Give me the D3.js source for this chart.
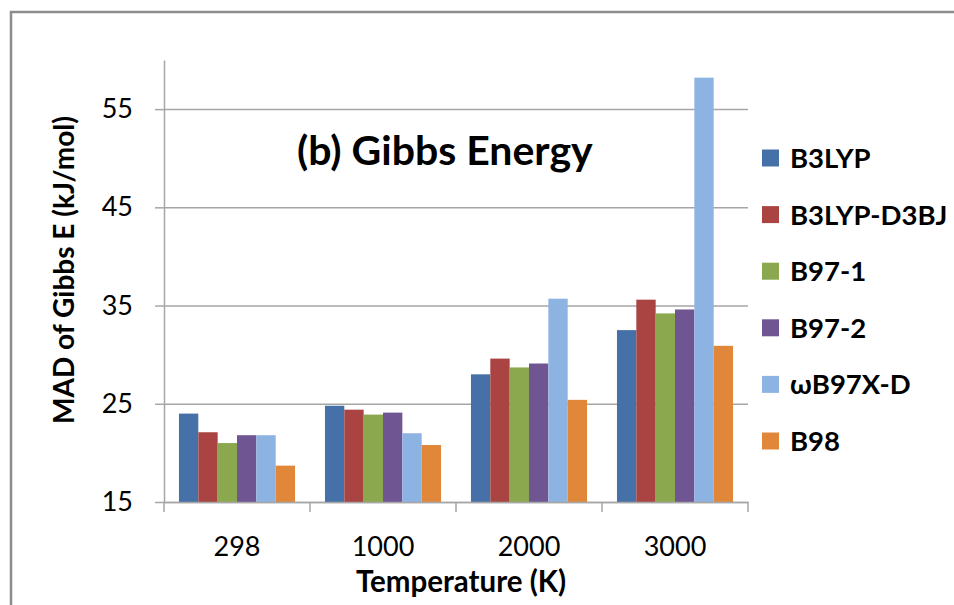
<!DOCTYPE html>
<html>
<head>
<meta charset="utf-8">
<script src="https://cdn.jsdelivr.net/npm/d3@7"></script>
<style>
  body { margin: 0; background: #fff; }
  text { font-family: Lato, "Open Sans", sans-serif; fill: #000; }
</style>
</head>
<body>
<div id="chart"></div>
<script>
// data
var temps = ["298", "1000", "2000", "3000"];
var methods = ["B3LYP", "B3LYP-D3BJ", "B97-1", "B97-2", "ωB97X-D", "B98"];
var b3lyp   = [24.0, 24.8, 28.0, 32.5];
var b3lypD3 = [22.1, 24.4, 29.6, 35.6];
var b971    = [21.0, 23.9, 28.7, 34.2];
var b972    = [21.8, 24.1, 29.1, 34.6];
var wb97xd  = [21.8, 22.0, 35.7, 58.2];
var b98     = [18.7, 20.8, 25.4, 30.9];
var yTicks = [15, 25, 35, 45, 55];

var seriesValues = [b3lyp, b3lypD3, b971, b972, wb97xd, b98];
var colors = ["#4670a8", "#a94442", "#8ba84e", "#6f5692", "#8db3e2", "#e0873a"];

svgWidth = 954;
svgHeight = 605;

margin = { top: 60, right: 206, bottom: 103, left: 164 };
width = svgWidth - margin.left - margin.right;
height = svgHeight - margin.top - margin.bottom;

svg = d3.select("#chart")
  .append("svg")
  .attr("width", svgWidth)
  .attr("height", svgHeight);

// outer frame
svg.append("rect")
  .attr("x", 11).attr("y", 12)
  .attr("width", 980).attr("height", 700)
  .attr("fill", "none")
  .attr("stroke", "#8c8c8c")
  .attr("stroke-width", 2.5);

chartGroup = svg.append("g")
  .attr("transform", `translate(${margin.left}, ${margin.top})`);

// scales
x0 = d3.scaleBand()
  .domain(temps)
  .range([0, width])
  .paddingInner(0.205)
  .paddingOuter(0.1025);

x1 = d3.scaleBand()
  .domain(methods)
  .range([0, x0.bandwidth()]);

y = d3.scaleLinear()
  .domain([15, 60])
  .range([height, 0]);

// gridlines
chartGroup.append("g")
  .call(d3.axisLeft(y).tickValues(yTicks).tickSize(-width).tickFormat(""))
  .call(g => g.select(".domain").remove())
  .selectAll("line")
  .attr("stroke", "#a6a6a6")
  .attr("stroke-width", 1.5);

// bars
rows = temps.map((t, i) => ({ temp: t, vals: methods.map((m, j) => ({ method: m, value: seriesValues[j][i] })) }));

groups = chartGroup.selectAll(".grp")
  .data(rows)
  .enter()
  .append("g")
  .attr("transform", d => `translate(${x0(d.temp)},0)`);

groups.selectAll("rect")
  .data(d => d.vals)
  .enter()
  .append("rect")
  .attr("x", d => x1(d.method))
  .attr("y", d => y(d.value))
  .attr("width", x1.bandwidth())
  .attr("height", d => y(15) - y(d.value))
  .attr("fill", (d, j) => colors[j]);

// y axis
yAxis = chartGroup.append("g")
  .call(d3.axisLeft(y).tickValues(yTicks).tickSizeInner(9).tickSizeOuter(0).tickPadding(22));
yAxis.select(".domain").attr("stroke", "#a6a6a6").attr("stroke-width", 1.5);
yAxis.selectAll("line").attr("stroke", "#a6a6a6").attr("stroke-width", 1.5);
yAxis.selectAll("text").style("font-size", "27px").style("font-family", "Lato, sans-serif");

// x axis
xAxis = chartGroup.append("g")
  .attr("transform", `translate(0, ${height})`)
  .call(d3.axisBottom(x0).tickSize(0).tickPadding(35));
xAxis.select(".domain").attr("stroke", "#a6a6a6").attr("stroke-width", 1.5);
xAxis.selectAll("text").style("font-size", "27px").style("font-family", "Lato, sans-serif");

// category boundary ticks
boundaries = d3.range(temps.length + 1).map(i => i * x0.step());
chartGroup.append("g")
  .attr("transform", `translate(0, ${height})`)
  .selectAll("line")
  .data(boundaries)
  .enter()
  .append("line")
  .attr("x1", d => d).attr("x2", d => d)
  .attr("y1", 0).attr("y2", 10)
  .attr("stroke", "#a6a6a6")
  .attr("stroke-width", 1.5);

// axis titles
svg.append("text")
  .attr("transform", "rotate(-90)")
  .attr("x", -270)
  .attr("y", 74)
  .attr("text-anchor", "middle")
  .attr("font-size", "28px")
  .attr("font-weight", "bold")
  .text("MAD of Gibbs E (kJ/mol)");

svg.append("text")
  .attr("x", 461)
  .attr("y", 592)
  .attr("text-anchor", "middle")
  .attr("font-size", "29.5px")
  .attr("font-weight", "bold")
  .text("Temperature (K)");

// chart title
svg.append("text")
  .attr("x", 297)
  .attr("y", 165)
  .attr("font-size", "41px")
  .attr("font-weight", "bold")
  .text("(b) Gibbs Energy");

// legend
legend = svg.append("g")
  .attr("transform", "translate(762, 158)");

items = legend.selectAll(".item")
  .data(methods)
  .enter()
  .append("g")
  .attr("transform", (d, i) => `translate(0, ${i * 56.6})`);

items.append("rect")
  .attr("x", 0).attr("y", -8.5)
  .attr("width", 17).attr("height", 17)
  .attr("fill", (d, i) => colors[i]);

items.append("text")
  .attr("x", 28)
  .attr("dy", "0.36em")
  .attr("font-size", "27.5px")
  .attr("font-weight", "bold")
  .text(d => d);
</script>
</body>
</html>
